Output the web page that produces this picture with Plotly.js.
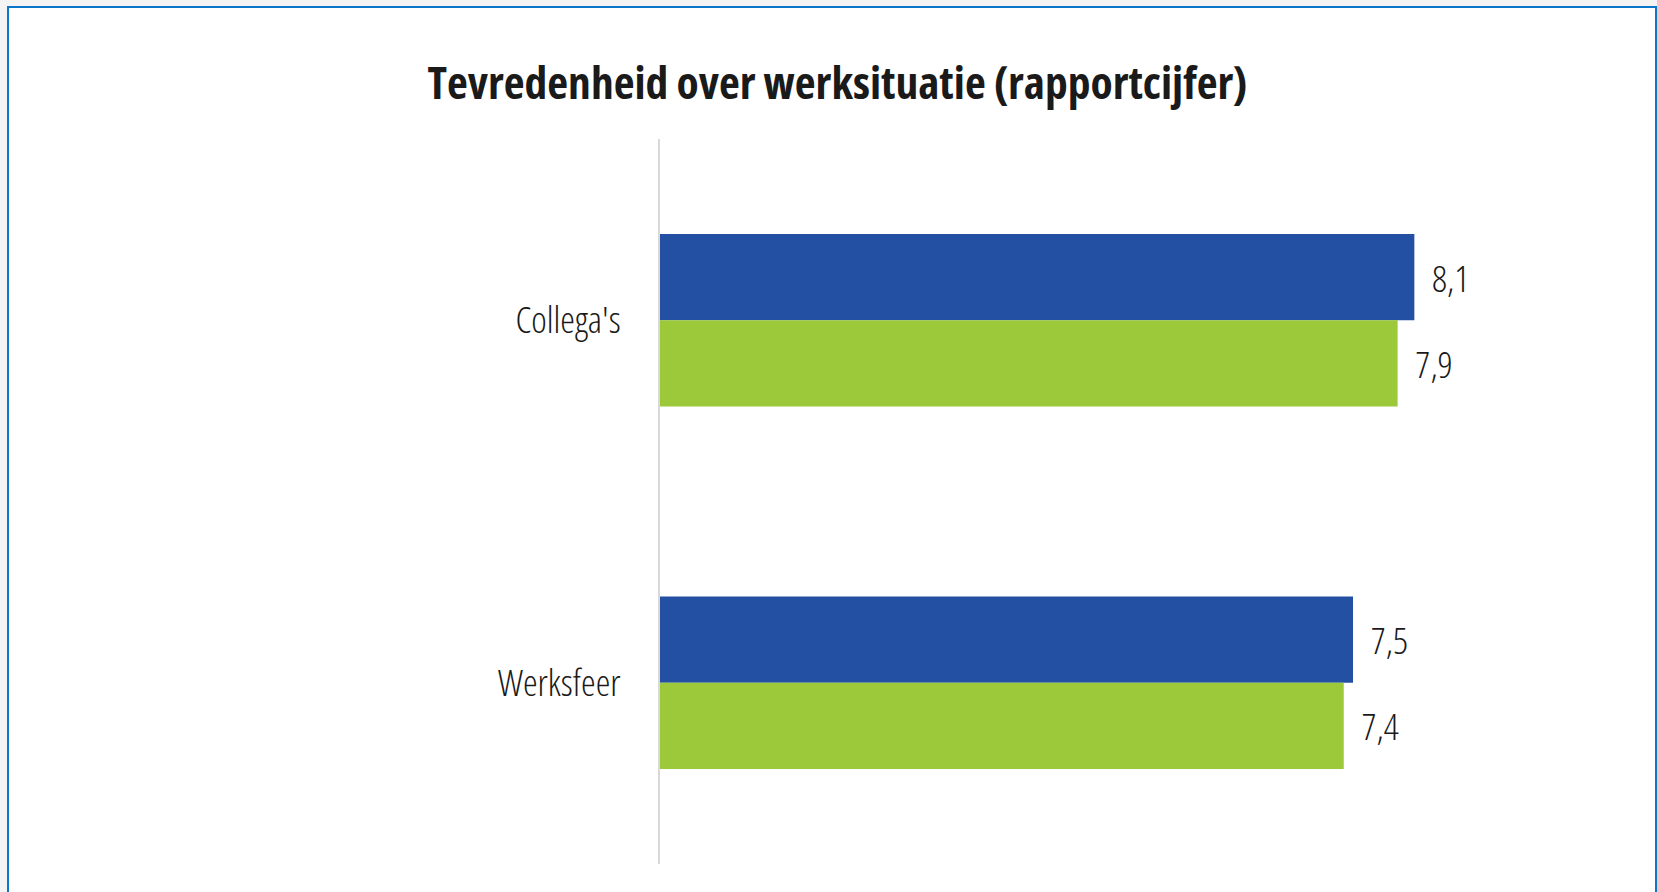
<!DOCTYPE html>
<html>
<head>
<meta charset="utf-8">
<script src="https://cdn.plot.ly/plotly-3.0.1.min.js"></script>
<style>
  html, body { margin: 0; padding: 0; background: #f4f4f4; width: 1657px; height: 892px; overflow: hidden; }
  #frame { position: absolute; left: 7px; top: 6px; width: 1646px; height: 900px; background: #ffffff;
           border: 2px solid #0b77c8; border-bottom: none; }
  #chart { position: absolute; left: 0; top: 0; width: 1657px; height: 892px; }
  #chart svg text { font-stretch: 75% !important; }
</style>
</head>
<body>
<div id="frame"></div>
<div id="chart"></div>
<script>
const categories = ["Collega's", "Werksfeer"];
const seriesA = [8.12, 7.46];   // blauw (labels: 8,1 / 7,5)
const seriesB = [7.94, 7.36];   // groen (labels: 7,9 / 7,4)
const seriesNames = ["Reeks 1", "Reeks 2"];
const colors = ["#2350a3", "#9bc93a"];
const titleText = "Tevredenheid over werksituatie (rapportcijfer)";

const labelFont = { family: "Open Sans", size: 37, color: "#1a1a1a", weight: 300 };

function barTrace(vals, name, color) {
  return {
    type: "bar", orientation: "h", y: categories, x: vals, name: name,
    marker: { color: color, line: { width: 0 } },
    texttemplate: "\u00a0%{x:.1f}", textposition: "outside", cliponaxis: false,
    textfont: labelFont, hoverinfo: "none"
  };
}

const data = [barTrace(seriesA, seriesNames[0], colors[0]), barTrace(seriesB, seriesNames[1], colors[1])];

const layout = {
  width: 1657, height: 892,
  paper_bgcolor: "rgba(0,0,0,0)", plot_bgcolor: "rgba(0,0,0,0)",
  margin: { l: 660, r: 68, t: 139, b: 28, pad: 0 },
  separators: ",.",
  showlegend: false,
  barmode: "group", bargap: 0.524, bargroupgap: 0,
  title: {
    text: titleText, x: 837.5 / 1657, xref: "container", xanchor: "center",
    y: 1 - 83 / 892, yref: "container", yanchor: "middle",
    font: { family: "Open Sans", size: 45.5, color: "#1a1a1a", weight: 700 }
  },
  xaxis: { range: [0, 10], showgrid: false, zeroline: false, showticklabels: false, showline: false, ticks: "" },
  yaxis: {
    type: "category", autorange: "reversed", showgrid: false, zeroline: false,
    showline: true, linecolor: "#d9d9d9", linewidth: 2, ticks: "",
    ticklabelstandoff: 30,
    tickfont: labelFont
  }
};

Plotly.newPlot("chart", data, layout, { displayModeBar: false, staticPlot: true });
</script>
</body>
</html>
